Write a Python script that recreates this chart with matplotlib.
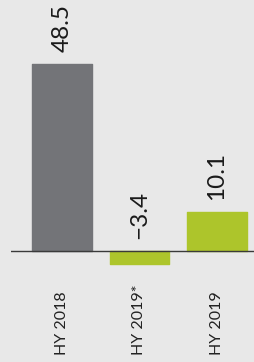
import matplotlib.pyplot as plt
import matplotlib.transforms as mtransforms

categories = ['HY 2018', 'HY 2019*', 'HY 2019']
values = [48.5, -3.4, 10.1]
colors = ['#737478', '#adc52b', '#adc52b']

bg = '#e8e8e8'
plt.rcParams['font.family'] = ['Lato', 'DejaVu Sans']

fig = plt.figure(figsize=(2.54, 3.62), dpi=100, facecolor=bg)
ax = fig.add_axes([11 / 254, 92 / 362, 243 / 254, 270 / 362])
ax.set_facecolor(bg)

x = range(len(categories))
ax.bar(x, values, width=0.77, color=colors, edgecolor=colors,
       linewidth=1, joinstyle='round', zorder=2)
ax.axhline(0, color='#3a3a3a', linewidth=1, zorder=3)

# value labels, rotated, sitting above the bar (or above the baseline)
for i, v in enumerate(values):
    ax.annotate(f'{v:.1f}'.replace('-', '\u2212'), (i, max(v, 0)),
                xytext=(0, 8.5), textcoords='offset points',
                rotation=90, ha='center', va='bottom',
                fontsize=17.5, color='#1a1a1a')

trans = mtransforms.blended_transform_factory(ax.transData, fig.transFigure)
for i, c in enumerate(categories):
    ax.text(i, 7 / 362, c, transform=trans, rotation=90, ha='center',
            va='bottom', fontsize=11.5, color='#222222')

ax.set_xlim(-0.66, 2.48)
ax.set_ylim(-4.92, 65.0)
ax.axis('off')

fig.savefig('out.png', dpi=100, facecolor=bg)
